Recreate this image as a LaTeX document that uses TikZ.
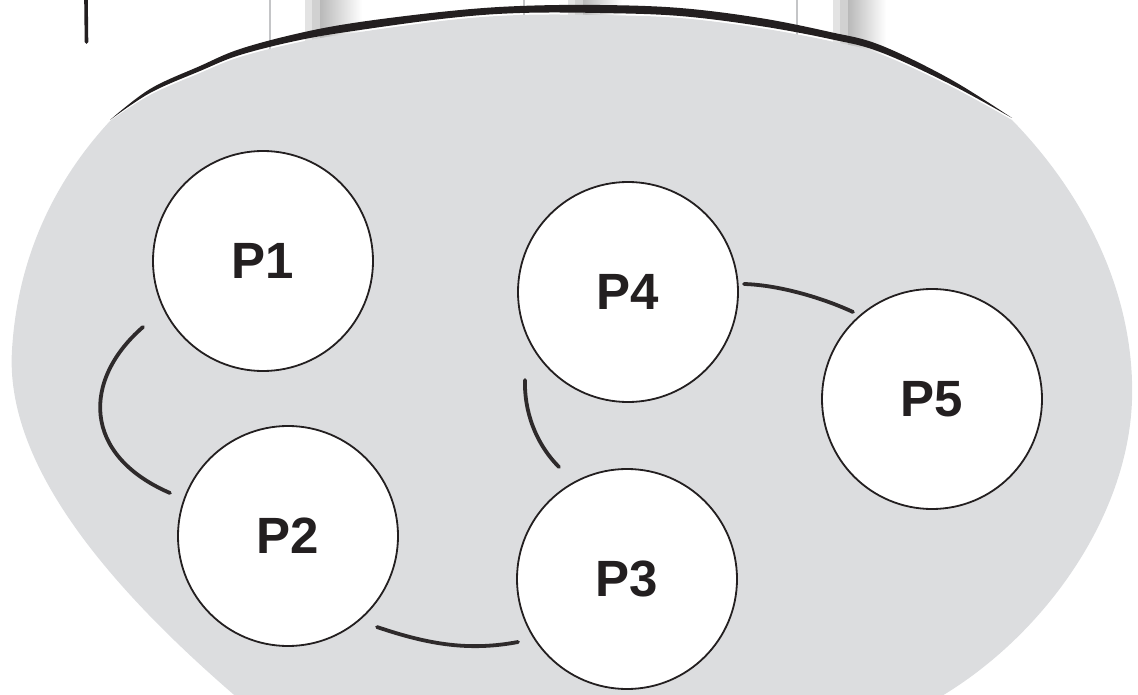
\documentclass[tikz,border=0pt]{standalone}
\usepackage{fontspec}
\setmainfont{Liberation Sans}
\usepackage{xcolor}
\usetikzlibrary{calc}
\definecolor{ink}{RGB}{35,31,32}
\definecolor{tablegray}{RGB}{220,221,223}
\definecolor{framegray}{RGB}{196,197,199}
\tikzstyle{proc}  = [circle, draw=ink, line width=1.8pt, fill=white, minimum size=220pt,
                     inner sep=0pt, text=ink, font=\fontsize{51}{60}\selectfont\bfseries]
\tikzstyle{link}  = [draw=ink!95, line width=3.8pt, line cap=round]
\tikzstyle{frame} = [draw=framegray, line width=1.5pt]

\begin{document}
\begin{tikzpicture}[x=1pt, y=-1pt]
    \useasboundingbox (0,0) rectangle (1138,695);
    \clip (0,0) rectangle (1138,695);

    % window frame behind the table
    \draw[frame] (270,0) -- (270,140);
    \fill[gray!22] (305,0) rectangle (312,140);
    \fill[gray!36] (312,0) rectangle (320,140);
    \shade[left color=gray!55, right color=white] (320,0) rectangle (362,140);
    \draw[frame] (524,0) -- (524,140);
    \fill[gray!22] (568,0) rectangle (575,140);
    \fill[gray!36] (575,0) rectangle (583,140);
    \shade[left color=gray!55, right color=white] (583,0) rectangle (622,140);
    \draw[frame] (797,0) -- (797,140);
    \fill[gray!22] (833,0) rectangle (840,140);
    \fill[gray!36] (840,0) rectangle (848,140);
    \shade[left color=gray!55, right color=white] (848,0) rectangle (886,140);
    \draw[ink, line width=3.6pt, line cap=round] (86,0) -- (86.5,42);

    % table top
    \fill[tablegray] plot[smooth, tension=0.6] coordinates {
        (110,121) (150,95) (200,73) (240,57) (300,42) (360,32) (450,20) (520,15)
        (600,15) (680,18) (760,28) (830,41) (880,54) (950,86) (1012,120)}
        .. controls (1090,200) and (1135,300) .. (1132,400)
        .. controls (1128,520) and (1040,640) .. (935,700)
        -- (240,700)
        .. controls (100,580) and (5,460) .. (12,350)
        .. controls (18,250) and (60,175) .. (110,121) -- cycle;
    \fill[ink] plot[smooth, tension=0.6] coordinates {
        (110,120) (150,89) (200,66) (240,49) (300,33) (360,22) (450,11) (520,6)
        (600,5) (680,8) (760,18) (830,32) (880,45) (950,79) (1012,118)}
        -- plot[smooth, tension=0.6] coordinates {
        (1012,118) (950,84) (880,52) (830,39) (760,26) (680,16) (600,13) (520,13)
        (450,18) (360,30) (300,40) (240,55) (200,71) (150,93) (110,120)} -- cycle;

    % processes
    \node (p1) [proc] at (263,261) {P1};
    \node (p2) [proc] at (288,536) {P2};
    \node (p3) [proc] at (627,579) {P3};
    \node (p4) [proc] at (628,292) {P4};
    \node (p5) [proc] at (932,399) {P5};

    \draw[link] ($(p1)+(-120,66)$) .. controls +(-61,53) and +(-88,-38) .. ($(p2)+(-118,-43)$);
    \draw[link] ($(p2)+(89,91)$) .. controls +(53,18) and +(-48,9) .. ($(p3)+(-109,63)$);
    \draw[link] ($(p4)+(-103,88)$) .. controls +(-1,30) and +(-24,-24) .. ($(p3)+(-68,-112)$);
    \draw[link] ($(p4)+(116,-8)$) .. controls +(35,1) and +(-30,-14) .. ($(p5)+(-79,-87)$);
\end{tikzpicture}
\end{document}
